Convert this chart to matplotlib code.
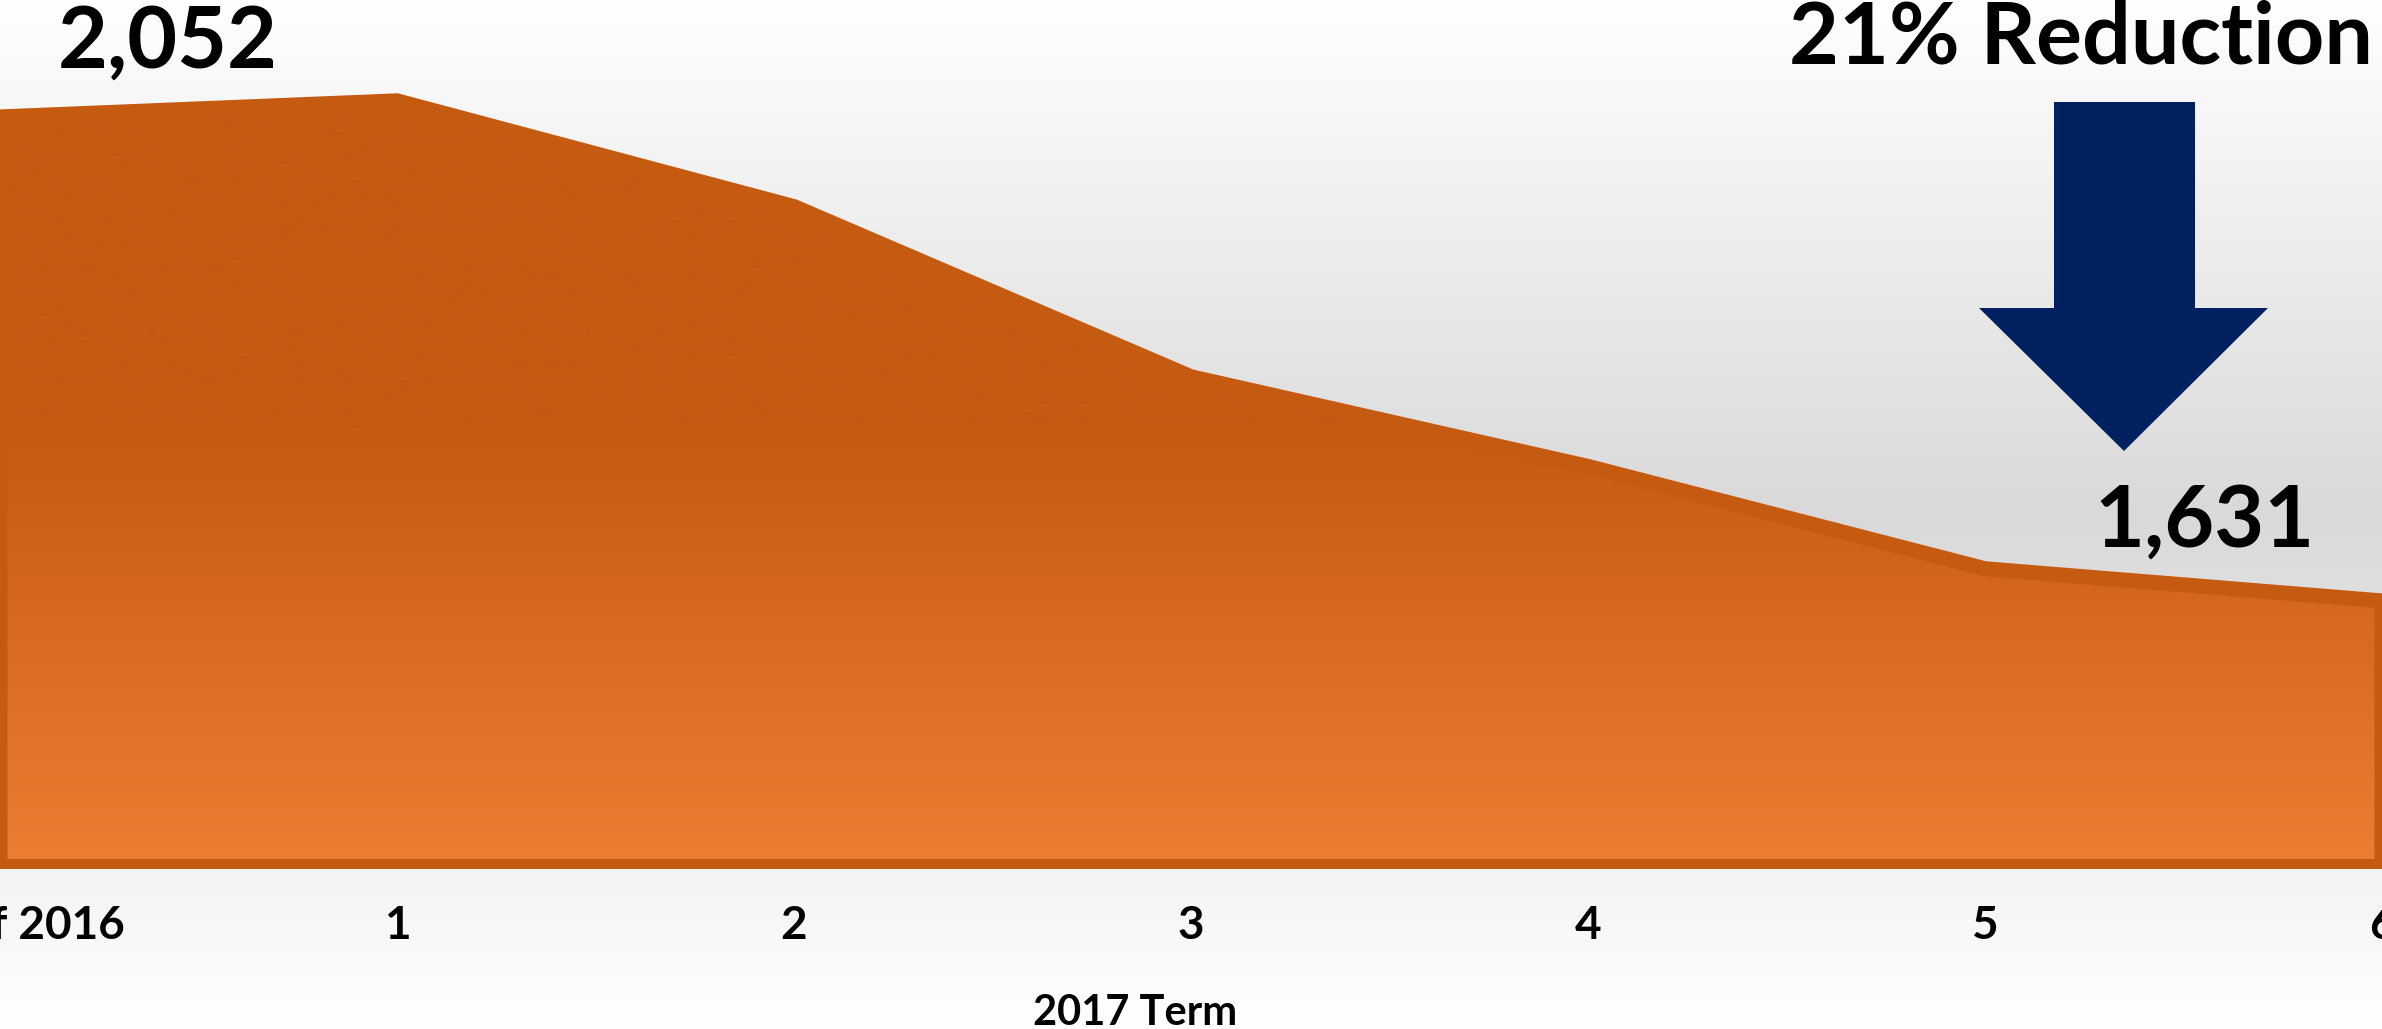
import numpy as np
import matplotlib
matplotlib.use("Agg")
import matplotlib.pyplot as plt
from matplotlib.colors import to_rgb
from matplotlib.patches import Polygon

# chart data
categories = ["End of 2016", "1", "2", "3", "4", "5", "6"]
students = [2052, 2066, 1974, 1826, 1748, 1659, 1631]
axis_title = "2017 Term"
headline = "21% Reduction"

W, H = 2382, 1029
DARK = "#C55A11"
LIGHT = "#ED7D31"
NAVY = "#002060"
FONT = "Lato"

plt.rcParams["font.family"] = [FONT, "DejaVu Sans"]

fig = plt.figure(figsize=(W / 100, H / 100), dpi=100)

# slide background: white -> grey -> white
bg = fig.add_axes([0, 0, 1, 1], zorder=0)
bg.axis("off")
t = np.linspace(0, 1, 512)
g = 1 - (1 - np.abs(t - 0.5) * 2) * (1 - 0xD9 / 255)
bg.imshow(np.dstack([g, g, g])[:, None, :].reshape(512, 1, 3), aspect="auto",
          extent=[0, 1, 0, 1], origin="upper")
bg.set_xlim(0, 1)
bg.set_ylim(0, 1)

# plot area
ax = fig.add_axes([0, 160 / H, 1, 869 / H], zorder=1)
ax.patch.set_alpha(0)
base = 1400
ax.set_xlim(0, len(categories) - 1)
ax.set_ylim(1397.8, 2153.7)

x = np.arange(len(categories))
px = np.concatenate([[x[0]], x, [x[-1]]])
py = np.concatenate([[base], students, [base]])
poly = ax.fill(px, py, facecolor="none", edgecolor=DARK, linewidth=10.8,
               joinstyle="miter", zorder=3)[0]

# vertical gradient for the area fill
yy = np.linspace(base, max(students), 400)
frac = np.clip((yy - base) / (1780 - base), 0, 1)[:, None]
cols = np.array(to_rgb(LIGHT)) * (1 - frac) + np.array(to_rgb(DARK)) * frac
im = ax.imshow(cols[:, None, :], aspect="auto", origin="lower",
               extent=[x[0], x[-1], base, max(students)], zorder=2)
im.set_clip_path(poly)

ax.set_xticks(x)
ax.set_xticklabels(categories, fontsize=33, fontweight="bold")
ax.tick_params(axis="x", length=0, pad=26)
ax.set_yticks([])
for s in ax.spines.values():
    s.set_visible(False)

ax.set_xlabel(axis_title, fontsize=30, fontweight="bold", va="baseline")
ax.xaxis.set_label_coords(1135 / W, (4 - 160) / 869)

# value labels
ax.annotate(f"{students[0]:,}", xy=(x[0], students[0]), xytext=(121, 35.6),
            textcoords="offset points", ha="center", va="baseline",
            fontsize=62, fontweight="bold", annotation_clip=False, zorder=5)
ax.annotate(f"{students[-1]:,}", xy=(x[-1], students[-1]), xytext=(-128, 39.2),
            textcoords="offset points", ha="center", va="baseline",
            fontsize=62, fontweight="bold", annotation_clip=False, zorder=5)

fig.text(2081 / W, 1 - 64 / H, headline, ha="center", va="baseline",
         fontsize=62, fontweight="bold", zorder=5)

# down arrow
arrow_px = [(2054, 102), (2195, 102), (2195, 308), (2268, 308),
            (2124, 451), (1979, 308), (2054, 308)]
arrow = Polygon([(a / W, 1 - b / H) for a, b in arrow_px], closed=True,
                facecolor=NAVY, edgecolor="none", transform=fig.transFigure,
                zorder=4)
fig.patches.append(arrow)

fig.savefig("out.png", dpi=100)
